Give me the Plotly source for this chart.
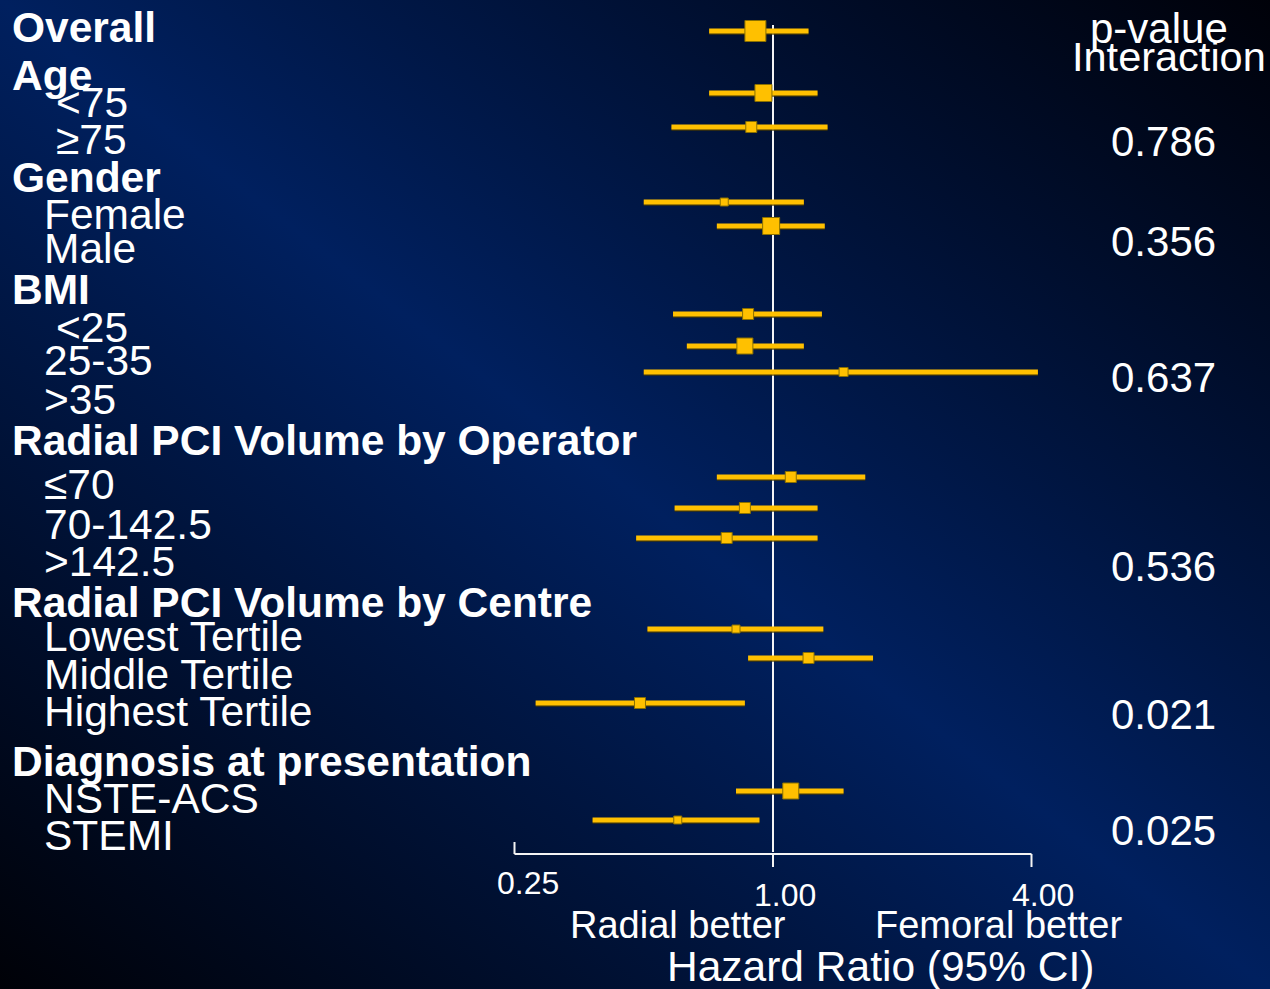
import base64
import math
import plotly.graph_objects as go

# ---- data -------------------------------------------------------------
subgroups = ["Overall", "<75", "≥75", "Female", "Male", "<25", "25-35", ">35",
             "≤70", "70-142.5", ">142.5", "Lowest Tertile", "Middle Tertile",
             "Highest Tertile", "NSTE-ACS", "STEMI"]
hazard_ratio = [0.91, 0.95, 0.89, 0.77, 0.99, 0.875, 0.86, 1.46,
                1.10, 0.86, 0.78, 0.82, 1.21, 0.49, 1.10, 0.60]
ci_lower = [0.71, 0.71, 0.58, 0.50, 0.74, 0.585, 0.63, 0.50,
            0.74, 0.59, 0.48, 0.51, 0.875, 0.28, 0.82, 0.38]
ci_upper = [1.21, 1.27, 1.34, 1.18, 1.32, 1.30, 1.18, 4.14,
            1.64, 1.27, 1.27, 1.31, 1.71, 0.86, 1.46, 0.93]

row_labels = ["Overall", "Age", "<75", "≥75", "Gender", "Female", "Male", "BMI",
              "<25", "25-35", ">35", "Radial PCI Volume by Operator", "≤70",
              "70-142.5", ">142.5", "Radial PCI Volume by Centre", "Lowest Tertile",
              "Middle Tertile", "Highest Tertile", "Diagnosis at presentation",
              "NSTE-ACS", "STEMI"]
heading_labels = {"Overall", "Age", "Gender", "BMI", "Radial PCI Volume by Operator",
                  "Radial PCI Volume by Centre", "Diagnosis at presentation"}

p_interaction = ["0.786", "0.356", "0.637", "0.536", "0.021", "0.025"]

tick_values = [0.25, 1.0, 4.0]
tick_text = ["0.25", "1.00", "4.00"]

# ---- layout constants (pixel rows, indents, marker sizes) -------------
W, H = 1270, 989
mark_rows = [31, 93, 127, 202, 226, 314, 346, 372, 477, 508, 538, 629, 658, 703, 791, 820]
box_px = [21, 17, 11, 8, 17, 11, 16, 9, 11, 11, 11, 8, 11, 11, 16, 8]
label_rows = [27, 75, 102, 139, 177, 214, 248, 289, 327, 360, 399, 440, 484, 524,
              561, 602, 636, 674, 711, 761, 798, 835]
label_indent = [10, 10, 54, 54, 10, 42, 42, 10, 54, 42, 42, 10, 42, 42, 42, 10,
                42, 42, 42, 10, 42, 42]
p_rows = [141, 241, 377, 566, 714, 830]

GOLD = "#FFC000"
WHITE = "#F4F4F4"
FONT = "Liberation Sans, Arial, sans-serif"

# log2 scale: 1.00 at x=773 px, one doubling = 129.25 px
px_per_log10 = 129.25 / math.log10(2)
x_range = [-773 / px_per_log10, (W - 773) / px_per_log10]

# ---- background gradient ---------------------------------------------
svg = (
    f'<svg xmlns="http://www.w3.org/2000/svg" width="{W}" height="{H}" '
    f'viewBox="0 0 {W} {H}" preserveAspectRatio="none">'
    '<defs><linearGradient id="g" x1="1" y1="0" x2="0" y2="1">'
    '<stop offset="0" stop-color="#000109"/>'
    '<stop offset="0.5" stop-color="#00205f"/>'
    '<stop offset="1" stop-color="#000107"/>'
    '</linearGradient></defs>'
    f'<rect width="{W}" height="{H}" fill="url(#g)"/></svg>'
)
bg_uri = "data:image/svg+xml;base64," + base64.b64encode(svg.encode()).decode()

fig = go.Figure()

# confidence-interval bars (shadow then gold)
ci_x, ci_y, sh_y = [], [], []
for lo, hi, y in zip(ci_lower, ci_upper, mark_rows):
    ci_x += [lo, hi, None]
    ci_y += [y, y, None]
    sh_y += [y + 1.2, y + 1.2, None]
fig.add_trace(go.Scatter(x=ci_x, y=sh_y, mode="lines",
                         line=dict(color="rgba(70,58,0,0.85)", width=5),
                         hoverinfo="skip", showlegend=False))
fig.add_trace(go.Scatter(x=ci_x, y=ci_y, mode="lines",
                         line=dict(color=GOLD, width=5),
                         hoverinfo="skip", showlegend=False))

# point estimates
fig.add_trace(go.Scatter(
    x=hazard_ratio, y=mark_rows, mode="markers", text=subgroups,
    marker=dict(symbol="square", size=box_px, color=GOLD, opacity=1,
                line=dict(color="#8A7000", width=1)),
    hovertemplate="%{text}: HR %{x:.2f}<extra></extra>", showlegend=False))

shapes = []
# line of no effect
shapes.append(dict(type="line", xref="x", yref="y", x0=1, x1=1, y0=25, y1=852,
                   line=dict(color=WHITE, width=2), layer="below"))
# bracket axis
axis_y = 854
shapes.append(dict(type="line", xref="x", yref="y", x0=tick_values[0], x1=tick_values[-1],
                   y0=axis_y, y1=axis_y, line=dict(color=WHITE, width=2)))
shapes.append(dict(type="line", xref="x", yref="y", x0=tick_values[0], x1=tick_values[0],
                   y0=axis_y - 12, y1=axis_y, line=dict(color=WHITE, width=2)))
shapes.append(dict(type="line", xref="x", yref="y", x0=tick_values[1], x1=tick_values[1],
                   y0=axis_y, y1=axis_y + 13, line=dict(color=WHITE, width=2)))
shapes.append(dict(type="line", xref="x", yref="y", x0=tick_values[2], x1=tick_values[2],
                   y0=axis_y, y1=axis_y + 13, line=dict(color=WHITE, width=2)))

annotations = []
for text, y, xi in zip(row_labels, label_rows, label_indent):
    bold = text in heading_labels
    annotations.append(dict(
        text=f"<b>{text}</b>" if bold else text, xref="paper", yref="y",
        x=xi / W, y=y, xanchor="left", yanchor="middle", showarrow=False,
        font=dict(family=FONT, size=42.5, color="white")))

for text, y in zip(p_interaction, p_rows):
    annotations.append(dict(text=text, xref="paper", yref="y", x=1163 / W, y=y,
                            xanchor="center", yanchor="middle", showarrow=False,
                            font=dict(family=FONT, size=42, color="white")))

annotations.append(dict(text="p-value", xref="paper", yref="y", x=1159 / W, y=28,
                        xanchor="center", yanchor="middle", showarrow=False,
                        font=dict(family=FONT, size=42, color="white")))
annotations.append(dict(text="Interaction", xref="paper", yref="y", x=1169 / W, y=56,
                        xanchor="center", yanchor="middle", showarrow=False,
                        font=dict(family=FONT, size=41.5, color="white")))

tick_label_y = [883, 895, 895]
tick_label_dx = [13, 12, 11]
for v, t, ty, dx in zip(tick_values, tick_text, tick_label_y, tick_label_dx):
    annotations.append(dict(text=t, xref="x", yref="y", x=math.log10(v), y=ty,
                            xshift=dx, xanchor="center", yanchor="middle", showarrow=False,
                            font=dict(family=FONT, size=32, color="white")))

annotations.append(dict(text="Radial better", xref="paper", yref="y", x=678 / W, y=925,
                        xanchor="center", yanchor="middle", showarrow=False,
                        font=dict(family=FONT, size=38, color="white")))
annotations.append(dict(text="Femoral better", xref="paper", yref="y", x=998 / W, y=925,
                        xanchor="center", yanchor="middle", showarrow=False,
                        font=dict(family=FONT, size=38, color="white")))
annotations.append(dict(text="Hazard Ratio (95% CI)", xref="paper", yref="y", x=881 / W, y=966,
                        xanchor="center", yanchor="middle", showarrow=False,
                        font=dict(family=FONT, size=42.5, color="white")))

fig.update_layout(
    width=W, height=H,
    margin=dict(l=0, r=0, t=0, b=0),
    paper_bgcolor="#000000",
    plot_bgcolor="rgba(0,0,0,0)",
    images=[dict(source=bg_uri, xref="paper", yref="paper", x=0, y=1,
                 sizex=1, sizey=1, sizing="stretch", xanchor="left",
                 yanchor="top", layer="below")],
    xaxis=dict(type="log", range=x_range, visible=False, fixedrange=True),
    yaxis=dict(range=[H, 0], visible=False, fixedrange=True),
    shapes=shapes,
    annotations=annotations,
    showlegend=False,
)

fig.write_html("out.html")
